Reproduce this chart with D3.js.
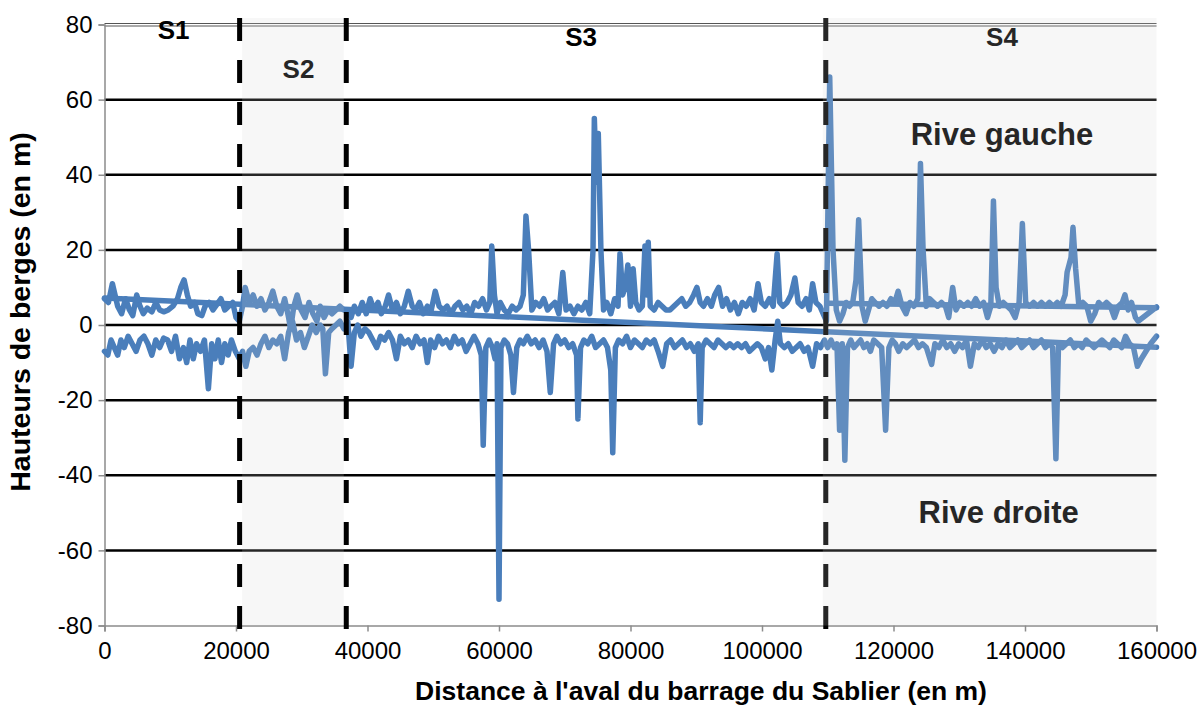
<!DOCTYPE html>
<html><head><meta charset="utf-8">
<script src="https://cdn.jsdelivr.net/npm/d3@7/dist/d3.min.js"></script>
<style>
html,body{margin:0;padding:0;background:#fff;}
svg{display:block;font-family:"Liberation Sans",Arial,sans-serif;}
</style></head>
<body>
<svg id="chart" width="1201" height="708"></svg>
<script>
// ---------- DATA ----------
const gaucheX = [0,600,1200,1600,2000,2600,3200,3800,4300,4900,5400,5900,6500,7200,7800,8400,9000,9700,10400,11100,11600,12100,12600,13100,13700,14200,14800,15300,15900,16500,17100,17700,18300,18900,19500,20000,20500,
21000,21400,22000,22600,23200,23800,24400,25000,25600,26200,26800,27400,28000,28300,28800,29300,29900,30500,31100,31700,32300,32800,33400,34000,34600,35200,35800,36400,
37000,37500,38000,38600,39200,39800,40400,41000,41600,42100,42700,43200,43800,44400,45000,45600,46200,46800,47300,47900,48500,49100,49700,50300,50900,51500,52100,52700,53300,53900,54500,55100,55700,56300,56900,57500,58100,58600,58900,59300,59700,60200,60800,61400,62000,62600,63200,63700,64100,64500,65000,65600,66200,66800,67400,67900,68500,69100,69700,70200,70800,71400,72000,72600,73200,73800,74300,74500,74800,75100,75500,75900,76400,77000,77600,78100,78400,78800,79200,79600,80000,80400,80800,81300,81800,82200,82500,82700,83000,83600,84200,84800,85400,86000,86600,87200,87800,88400,89000,89600,90100,90600,91100,91700,92300,92800,93400,94000,94600,95200,95800,96400,97000,97600,98200,98800,99400,99900,100500,101100,101700,102300,102700,103200,103800,104400,105000,105500,106100,106700,107200,107700,108200,108800,109300,109800,
110300,110800,111300,111800,112300,112800,113300,113800,114300,114700,115200,115700,116200,116700,117200,117800,118400,119000,119600,120200,120700,121300,121900,122500,123100,123700,124100,124500,125000,125500,126100,126700,127300,127900,128400,129000,129500,130100,130700,131300,131900,132500,133100,133700,134300,134800,135200,135600,136100,136700,137300,137900,138500,139100,139600,140100,140700,141300,141900,142500,143100,143700,144300,144900,145500,146100,146400,147000,147300,147700,148200,148800,149400,150000,150600,151200,151800,152400,153000,153600,154200,154800,155200,155700,156200,156800,157200,160000];
const gaucheY = [7,6,11,8,5,3,7,4,2.5,8,5,3,4.5,3.5,6,4,3.5,4,5,7,10,12,8,5,6,3,2.5,5,6,4,5.5,7,4,5,6,2,1,
5,10,6,8,5,7,4,6,9,5,3,7,2,-1,5,8,4,2,6,3,1,5,2,4,3,4,5,4,
4,2,5,3,6,3,7,4,6,3,5,8,4,6,3,5,9,5,4,6,3,5,4,9,5,4,5,3,5,6,4,5,3,6,5,7,4,6,21,8,3,6,4,3,5,4,5,8,29,20,4,6,5,7,4,5,6,3,14,4,5,3,5,4,6,3,20,55,38,51,20,4,6,3,7,5,19,8,10,16,5,15,6,4,5,21,8,22,5,4,6,5,4,4,5,6,7,5,6,8,10,6,5,7,5,8,10,5,7,4,6,3,6,5,7,4,11,6,5,7,5,19,6,5,6,8,12.5,6,5,7,4,11,6,5,3,1,
66,20,4,1,3,6,5,6,12,28,5,1,4,7,6,5,6,5,7,6,9,5,3,6,5,7,43,20,5,7,6,5,6,5,2,10,4,6,5,6,5,7,5,6,2,5,33,10,5,6,5,4,2,6,27,6,5,6,5,6,5,6,5,6,5,8,14,18,26,15,5,6,5,1,3,6,5,6,5,2,5,6,8,4,6,2,1,4.8];

const droiteX = [0,500,1000,1500,2000,2500,3000,3600,4200,4800,5400,6000,6600,7200,7800,8400,9000,9600,10200,10800,11400,12000,12500,13000,13500,14000,14600,15200,15800,16300,16800,17300,17800,18300,18800,19300,19900,20500,
21000,21500,22000,22600,23200,23800,24400,25000,25600,26200,26800,27400,28000,28600,29200,29800,30400,31000,31600,32200,32800,33200,33600,34100,34600,35200,35800,36400,
37000,37500,38000,38500,39000,39600,40200,40800,41400,42000,42600,43200,43800,44400,45000,45600,46200,46800,47400,48000,48600,49100,49600,50200,50800,51400,52000,52600,53200,53800,54400,55000,55600,56200,56800,57300,57600,58000,58500,59000,59400,59700,60000,60300,60800,61300,61800,62200,62700,63200,63700,64300,64900,65500,66100,66700,67300,67800,68300,68800,69400,70000,70600,71200,71800,72000,72400,72900,73500,74100,74700,75300,75900,76500,77000,77300,77700,78200,78800,79400,80000,80600,81200,81800,82400,83000,83600,84200,84900,85500,86100,86700,87300,87900,88500,89100,89700,90300,90600,90900,91500,92100,92700,93300,93900,94500,95100,95700,96300,96900,97500,98100,98700,99300,99900,100500,101000,101500,102000,102400,102800,103400,104000,104600,105200,105800,106400,107000,107700,108300,108900,109500,110000,
110500,111000,111400,111800,112200,112600,113000,113500,114000,114500,115000,115500,116000,116500,117000,117600,118200,118800,119300,119800,120300,120800,121400,122000,122600,123200,123800,124400,125000,125800,126300,126900,127500,128100,128700,129300,129900,130500,131100,131700,132300,132900,133500,134100,134700,135300,135900,136500,137100,137700,138300,138900,139500,140100,140700,141300,141900,142500,143100,143700,144200,144700,145100,145700,146300,146900,147500,148100,148700,149300,149900,150500,151100,151700,152300,152900,153500,154100,154700,155300,155900,156500,157100,157700,158400,159100,160000];
const droiteY = [-7,-8,-4,-6,-8,-4,-6,-3,-5,-7,-4,-3,-5,-8,-4,-6,-3.5,-4,-7,-3,-9,-6,-10,-4,-9,-5,-7,-4,-17,-5,-9,-4,-10,-5,-8,-4,-7,-9,
-7,-11,-7,-6,-8,-5,-3,-6,-4,-5,-3,-9,-2,1,-4,-2,-6,-3,0,-2,0,-1,-13,-2,-1,0,1,-1,
1,-11,-2,0,-3,-1,-2,-4,-6,-3,-4,-2,-4,-9,-3,-5,-4,-6,-3,-5,-4,-10,-4,-6,-3,-5,-4,-6,-3,-5,-4,-7,-5,-3,-5,-8,-32,-6,-4,-6,-9,-5,-73,-6,-4,-5,-8,-18,-6,-4,-5,-3,-5,-4,-6,-4,-7,-18,-5,-3,-5,-4,-6,-5,-8,-25,-6,-4,-5,-3,-6,-5,-4,-6,-12,-34,-6,-4,-5,-3,-6,-4,-5,-6,-4,-5,-4,-7,-11,-5,-4,-6,-5,-4,-6,-5,-7,-5,-26,-6,-4,-5,-6,-4,-5,-6,-5,-6,-5,-6,-5,-7,-6,-5,-6,-9,-6,-12,-4,1,-5,-6,-5,-7,-6,-5,-7,-6,-11,-5,-6,-4,-6,
-4,-6,-5,-28,-5,-36,-6,-4,-6,-5,-4,-6,-5,-7,-4,-5,-6,-28,-6,-4,-5,-7,-5,-6,-5,-4,-6,-5,-6,-10.5,-5,-6,-4,-6,-5,-7,-5,-6,-4,-11,-5,-6,-4,-6,-5,-7,-5,-6,-4,-6,-5,-4,-6,-5,-4,-6,-5,-4,-6,-5,-6,-35.6,-5,-6,-5,-4,-6,-5,-6,-4,-5,-6,-5,-4,-5,-6,-4,-5,-6,-3,-5,-6,-11,-9,-7,-5,-3];

// straight trend segments
const trendAX = [0,160000];
const trendAY = [7.2,-5.9];
const trendBX = [110000,160000];
const trendBY = [5.8,4.6];

const sectorBounds = [20550,36770,109700];
const sectorLabels = ["S1","S2","S3","S4"];
const sectorLabelX = [10500,29500,72500,136500];
const sectorLabelY = [78,67.5,76,76];
const xTicks = [0,20000,40000,60000,80000,100000,120000,140000,160000];
const yTicks = [-80,-60,-40,-20,0,20,40,60,80];

// ---------- CHART ----------
const svg = d3.select("#chart");
const x = d3.scaleLinear().domain([0,160000]).range([104.5,1156.5]);
const y = d3.scaleLinear().domain([-80,80]).range([625.5,24.5]);
const blue = "#4a7ebb";
const fmt = d => String(d);

// gridlines
svg.append("g").selectAll("line").data(yTicks.filter(d=>d>-80 && d<80)).join("line")
  .attr("x1",x(0)).attr("x2",x(160000)).attr("y1",d=>y(d)).attr("y2",d=>y(d))
  .attr("stroke","#000").attr("stroke-width",2.5);
svg.append("line").attr("x1",x(0)).attr("x2",x(160000)).attr("y1",y(80)-1).attr("y2",y(80)-1).attr("stroke","#555").attr("stroke-width",1);
svg.append("line").attr("x1",x(0)).attr("x2",x(160000)).attr("y1",y(80)+1.5).attr("y2",y(80)+1.5).attr("stroke","#555").attr("stroke-width",1);

// axes
const yAxis = d3.axisLeft(y).tickValues(yTicks).tickSize(6).tickPadding(6).tickFormat(fmt);
const gy = svg.append("g").attr("transform",`translate(${x(0)},0)`).call(yAxis);
gy.select(".domain").attr("stroke","#8c8c8c").attr("stroke-width",1.5);
gy.selectAll(".tick line").attr("stroke","#8c8c8c").attr("stroke-width",1.5);
gy.selectAll(".tick text").attr("font-size",24).attr("fill","#000").attr("font-family","Liberation Sans, Arial, sans-serif");

const xAxis = d3.axisBottom(x).tickValues(xTicks).tickSize(6).tickPadding(10).tickFormat(fmt);
const gx = svg.append("g").attr("transform",`translate(0,${y(-80)})`).call(xAxis);
gx.select(".domain").attr("stroke","#8c8c8c").attr("stroke-width",1.5);
gx.selectAll(".tick line").attr("stroke","#8c8c8c").attr("stroke-width",1.5);
gx.selectAll(".tick text").attr("font-size",24).attr("fill","#000").attr("font-family","Liberation Sans, Arial, sans-serif");

// series
const line = d3.line().x(d=>x(d[0])).y(d=>y(d[1]));
const gData = gaucheX.map((v,i)=>[v,gaucheY[i]]);
const dData = droiteX.map((v,i)=>[v,droiteY[i]]);
const tA = trendAX.map((v,i)=>[v,trendAY[i]]);
const tB = trendBX.map((v,i)=>[v,trendBY[i]]);
[gData,dData,tA,tB].forEach(s=>{
  svg.append("path").datum(s).attr("d",line).attr("fill","none")
    .attr("stroke",blue).attr("stroke-width",5.5)
    .attr("stroke-linejoin","round").attr("stroke-linecap","round");
});

// sector labels
svg.append("g").selectAll("text").data(sectorLabels).join("text")
  .attr("x",(d,i)=>x(sectorLabelX[i])).attr("y",(d,i)=>y(sectorLabelY[i]))
  .attr("text-anchor","middle").attr("dominant-baseline","middle")
  .attr("font-size",26).attr("font-weight","bold").attr("fill","#000").text(d=>d);

svg.append("text").attr("x",x(136500)).attr("y",y(50)).attr("text-anchor","middle").attr("dominant-baseline","middle")
  .attr("font-size",31).attr("font-weight","bold").attr("fill","#000").text("Rive gauche");
svg.append("text").attr("x",x(136000)).attr("y",y(-50.5)).attr("text-anchor","middle").attr("dominant-baseline","middle")
  .attr("font-size",31).attr("font-weight","bold").attr("fill","#000").text("Rive droite");

// third dashed line (under overlay)
const dash = (v,col)=>svg.append("line").attr("x1",x(v)).attr("x2",x(v)).attr("y1",18).attr("y2",631)
  .attr("stroke",col).attr("stroke-width",5).attr("stroke-dasharray","23,19");
dash(sectorBounds[2],"#000");

// shaded overlays for S2 and S4
svg.append("rect").attr("x",x(sectorBounds[0])+2.5).attr("width",x(sectorBounds[1])-x(sectorBounds[0])-5)
  .attr("y",18).attr("height",y(-80)-18).attr("fill","rgb(211,211,211)").attr("fill-opacity",0.18);
svg.append("rect").attr("x",x(sectorBounds[2])-3).attr("width",x(160000)-x(sectorBounds[2])+3)
  .attr("y",18).attr("height",y(-80)-18).attr("fill","rgb(211,211,211)").attr("fill-opacity",0.18);

dash(sectorBounds[0],"#000");
dash(sectorBounds[1],"#000");

// axis titles
svg.append("text").attr("x",701).attr("y",693).attr("text-anchor","middle").attr("dominant-baseline","middle")
  .attr("font-size",26.5).attr("font-weight","bold").attr("fill","#000").text("Distance à l'aval du barrage du Sablier (en m)");
svg.append("text").attr("transform","translate(22,312) rotate(-90)").attr("text-anchor","middle").attr("dominant-baseline","middle")
  .attr("font-size",28.5).attr("font-weight","bold").attr("fill","#000").text("Hauteurs de berges (en m)");
</script>
</body></html>
